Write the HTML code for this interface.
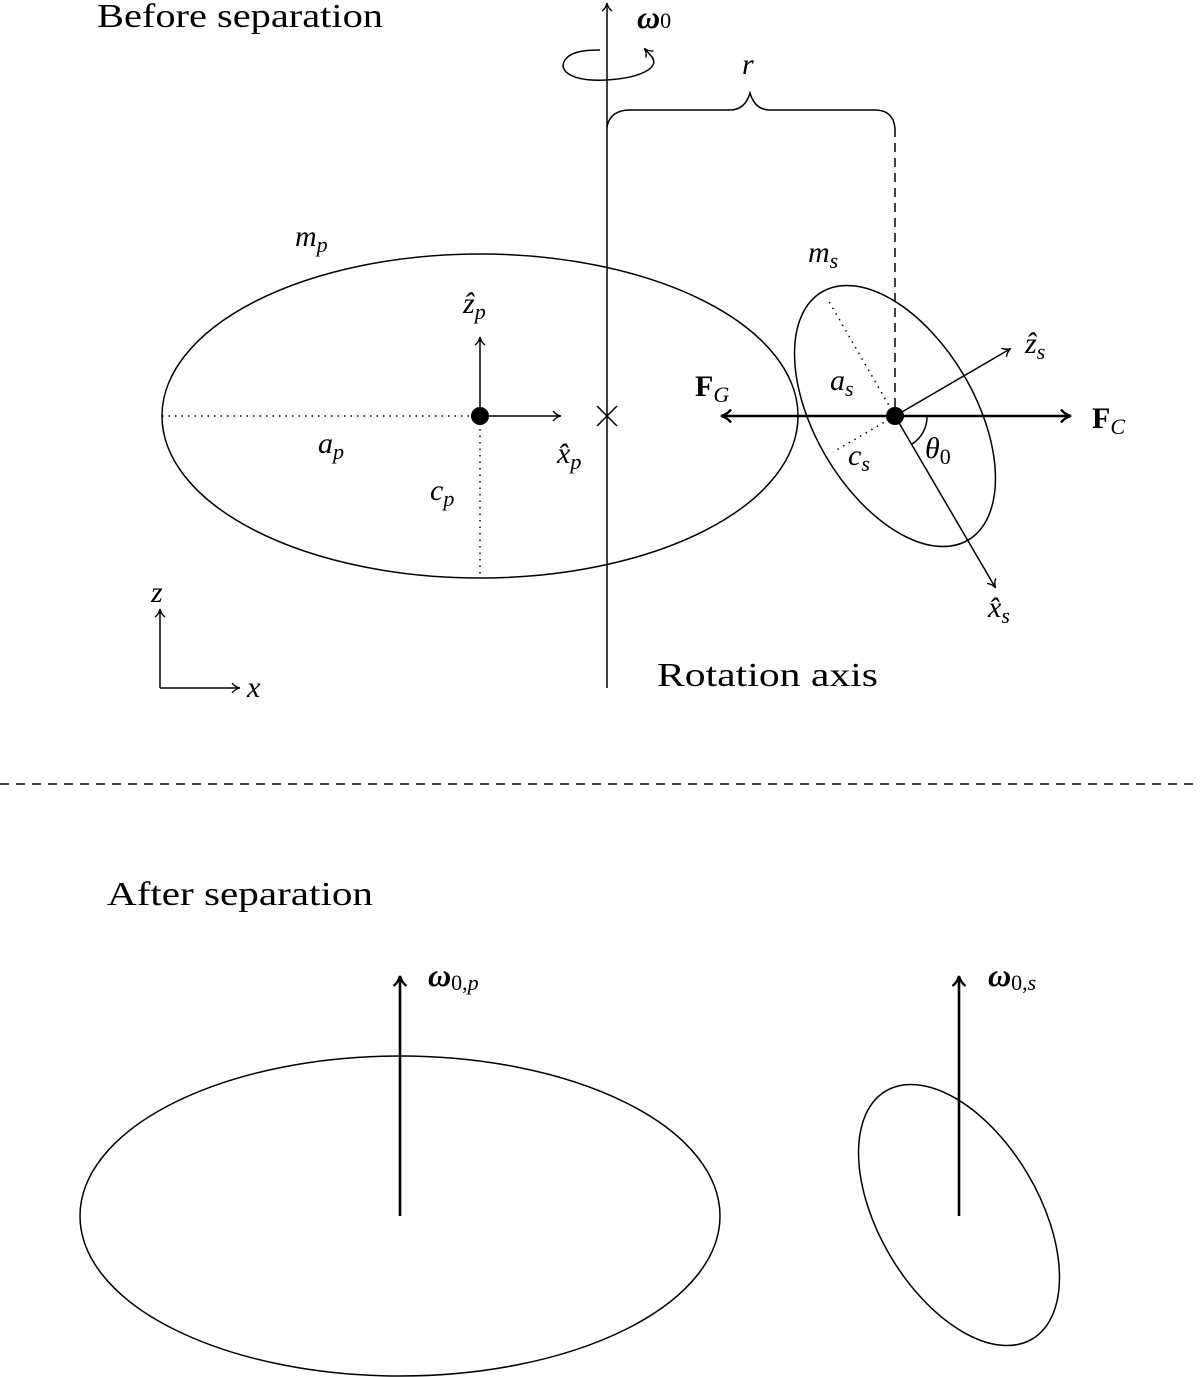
<!DOCTYPE html>
<html><head><meta charset="utf-8"><style>
html,body{margin:0;padding:0;background:#fff}
svg{display:block}
text{font-family:"Liberation Serif",serif;fill:#000}
.i{font-style:italic}
.b{font-weight:bold}
</style></head><body>
<svg width="1200" height="1377" viewBox="0 0 1200 1377" xmlns="http://www.w3.org/2000/svg">
<defs>
<marker id="ah" markerWidth="12" markerHeight="12" refX="9" refY="6" orient="auto" markerUnits="userSpaceOnUse">
<path d="M2,1 Q5,5 10,6 Q5,7 2,11" fill="none" stroke="#000" stroke-width="1.4"/>
</marker>
<marker id="ahb" markerWidth="16" markerHeight="16" refX="12" refY="8" orient="auto" markerUnits="userSpaceOnUse">
<path d="M3,1.5 Q7,6.5 13,8 Q7,9.5 3,14.5" fill="none" stroke="#000" stroke-width="2.4"/>
</marker>
</defs>
<g fill="none" stroke="#000">
<text x="97" y="27" font-size="34" textLength="286" lengthAdjust="spacingAndGlyphs" stroke="none">Before separation</text>
<!-- rotation axis -->
<line x1="607" y1="688" x2="607" y2="4" stroke-width="1.5" marker-end="url(#ah)"/>
<path d="M607,80 C570,82 558,70 565,60 C572,50 590,50 600,50" stroke-width="1.5"/>
<path d="M607,80 C640,78 660,68 652,57 L645,49" stroke-width="1.5" marker-end="url(#ah)"/>
<text x="637" y="28" font-size="32" class="b i" stroke="none">ω<tspan font-size="22" font-weight="normal" font-style="normal">0</tspan></text>
<!-- brace -->
<path d="M607,127 Q610,110 630,110 L730,110 Q745,110 750,93 Q755,110 770,110 L875,110 Q893,110 895,128" stroke-width="1.5"/>
<text x="742" y="74" font-size="30" class="i" stroke="none">r</text>
<line x1="895" y1="128" x2="895" y2="416" stroke-width="1.5" stroke-dasharray="9,6"/>
<!-- primary ellipse -->
<ellipse cx="480" cy="416" rx="318" ry="162" stroke-width="1.5"/>
<line x1="162" y1="416" x2="480" y2="416" stroke-width="1.5" stroke-dasharray="1.5,5"/>
<line x1="480" y1="416" x2="480" y2="578" stroke-width="1.5" stroke-dasharray="1.5,5"/>
<line x1="480" y1="416" x2="480" y2="338" stroke-width="1.5" marker-end="url(#ah)"/>
<line x1="480" y1="416" x2="560" y2="416" stroke-width="1.5" marker-end="url(#ah)"/>
<circle cx="480" cy="416" r="9" fill="#000" stroke="none"/>
<path d="M597,406 L617,426 M617,406 L597,426" stroke-width="1.5"/>
<text x="295" y="246" font-size="30" class="i" stroke="none">m<tspan font-size="22" dy="6">p</tspan></text>
<text x="463" y="313" font-size="30" class="i" stroke="none">ẑ<tspan font-size="22" dy="6">p</tspan></text>
<text x="557" y="463" font-size="30" class="i" stroke="none">x̂<tspan font-size="22" dy="6">p</tspan></text>
<text x="318" y="453" font-size="30" class="i" stroke="none">a<tspan font-size="22" dy="6">p</tspan></text>
<text x="430" y="500" font-size="30" class="i" stroke="none">c<tspan font-size="22" dy="6">p</tspan></text>
<!-- secondary -->
<ellipse cx="0" cy="0" rx="144" ry="80" transform="translate(895,416) rotate(59.5)" stroke-width="1.5"/>
<line x1="895" y1="416" x2="827" y2="298" stroke-width="1.5" stroke-dasharray="1.5,5"/>
<line x1="895" y1="416" x2="833" y2="452" stroke-width="1.5" stroke-dasharray="1.5,5"/>
<line x1="895" y1="416" x2="722" y2="416" stroke-width="2.6" marker-end="url(#ahb)"/>
<line x1="895" y1="416" x2="1070" y2="416" stroke-width="2.6" marker-end="url(#ahb)"/>
<line x1="895" y1="416" x2="1010" y2="349" stroke-width="1.5" marker-end="url(#ah)"/>
<line x1="895" y1="416" x2="995" y2="587" stroke-width="1.5" marker-end="url(#ah)"/>
<path d="M927,416 A32,32 0 0 1 912,444" stroke-width="1.5"/>
<circle cx="895" cy="416" r="9" fill="#000" stroke="none"/>
<text x="808" y="262" font-size="30" class="i" stroke="none">m<tspan font-size="22" dy="6">s</tspan></text>
<text x="830" y="390" font-size="30" class="i" stroke="none">a<tspan font-size="22" dy="6">s</tspan></text>
<text x="848" y="465" font-size="30" class="i" stroke="none">c<tspan font-size="22" dy="6">s</tspan></text>
<text x="925" y="458" font-size="30" class="i" stroke="none">θ<tspan font-size="22" font-style="normal" dy="6">0</tspan></text>
<text x="1025" y="353" font-size="30" class="i" stroke="none">ẑ<tspan font-size="22" dy="6">s</tspan></text>
<text x="988" y="617" font-size="30" class="i" stroke="none">x̂<tspan font-size="22" dy="6">s</tspan></text>
<text x="695" y="396" font-size="30" class="b" stroke="none">F<tspan font-size="22" font-weight="normal" font-style="italic" dy="6">G</tspan></text>
<text x="1092" y="428" font-size="30" class="b" stroke="none">F<tspan font-size="22" font-weight="normal" font-style="italic" dy="6">C</tspan></text>
<!-- axes -->
<line x1="160" y1="688" x2="160" y2="610" stroke-width="1.5" marker-end="url(#ah)"/>
<line x1="160" y1="688" x2="239" y2="688" stroke-width="1.5" marker-end="url(#ah)"/>
<text x="151" y="602" font-size="30" class="i" stroke="none">z</text>
<text x="247" y="697" font-size="30" class="i" stroke="none">x</text>
<text x="657" y="686" font-size="34" textLength="221" lengthAdjust="spacingAndGlyphs" stroke="none">Rotation axis</text>
<!-- separator -->
<line x1="0" y1="784" x2="1200" y2="784" stroke-width="1.5" stroke-dasharray="9,7"/>
<text x="107" y="905" font-size="34" textLength="266" lengthAdjust="spacingAndGlyphs" stroke="none">After separation</text>
<!-- after -->
<ellipse cx="400" cy="1216" rx="320" ry="160" stroke-width="1.5"/>
<line x1="400" y1="1216" x2="400" y2="977" stroke-width="2.6" marker-end="url(#ahb)"/>
<text x="428" y="986" font-size="32" class="b i" stroke="none">ω<tspan font-size="22" font-weight="normal" font-style="normal" dy="4">0,</tspan><tspan font-size="22" font-weight="normal">p</tspan></text>
<ellipse cx="0" cy="0" rx="144" ry="80" transform="translate(959,1215) rotate(59.5)" stroke-width="1.5"/>
<line x1="959" y1="1216" x2="959" y2="977" stroke-width="2.6" marker-end="url(#ahb)"/>
<text x="988" y="986" font-size="32" class="b i" stroke="none">ω<tspan font-size="22" font-weight="normal" font-style="normal" dy="4">0,</tspan><tspan font-size="22" font-weight="normal">s</tspan></text>
</g>
</svg>
</body></html>
